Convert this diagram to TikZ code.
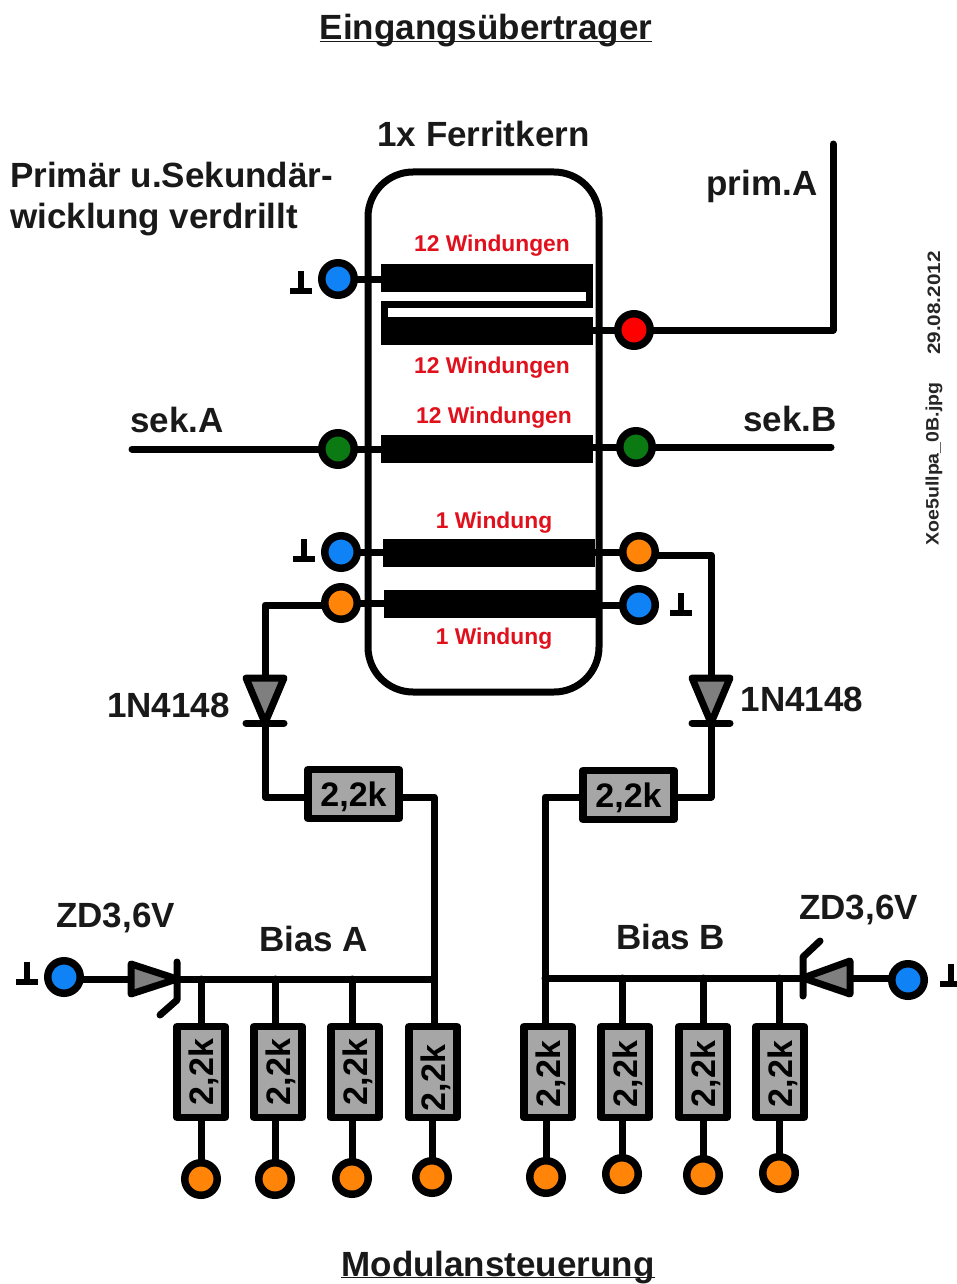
\documentclass[tikz,border=0pt]{standalone}
\usepackage{fontspec}
\usepackage{graphicx}
\setmainfont{Liberation Sans}[BoldFont={Liberation Sans Bold}]
\newcommand{\fsz}[1]{\fontsize{#1}{#1}\selectfont\bfseries}
\newcommand{\ul}[1]{\underline{\smash{\hbox{#1}}}}
\definecolor{tblue}{HTML}{0F82F5}
\definecolor{tred}{HTML}{FF0000}
\definecolor{tgreen}{HTML}{0B7A12}
\definecolor{torange}{HTML}{FF8408}
\definecolor{rgrey}{HTML}{A6A6A6}
\definecolor{dgrey}{HTML}{7F7F7F}
\definecolor{wred}{HTML}{E0101C}
\tikzset{
  wire/.style={draw=black,line width=7pt,line join=round,line cap=round},
  stub/.style={draw=black,line width=7pt},
  term/.style={circle,draw=black,line width=7.5pt,minimum size=32.5pt,inner sep=0pt,outer sep=0pt,fill=#1},
  winding/.style={rectangle,fill=black,minimum width=212pt,minimum height=28pt,inner sep=0pt,outer sep=0pt},
  rhoriz/.style={rectangle,draw=black,line width=7.5pt,fill=rgrey,line join=round,minimum width=91pt,minimum height=49pt,inner sep=0pt,outer sep=0pt,text height=24pt,text depth=0pt,font=\fsz{34}},
  rvert/.style={rectangle,draw=black,line width=7.5pt,fill=rgrey,line join=round,rotate=90,minimum width=91pt,minimum height=48pt,inner sep=0pt,outer sep=0pt,text height=24pt,text depth=0pt,font=\fsz{34}},
  lbl/.style={anchor=base,inner sep=0pt,font=\fsz{35},text=black!90},
  lbll/.style={anchor=base west,inner sep=0pt,font=\fsz{35},text=black!90},
  wlbl/.style={anchor=base,inner sep=0pt,font=\fsz{22.8},text=wred},
  side/.style={inner sep=0pt,rotate=90,font=\fsz{18},text=black!85},
  dbody/.style={draw=black,line width=7pt,line join=round,fill=dgrey},
  dbar/.style={draw=black,line width=7pt,line cap=round,line join=round},
  gndline/.style={draw=black,line width=6pt},
  gndsym/.pic={\draw[gndline] (0,-11) -- (0,9); \draw[gndline] (-11,9) -- (11,9);},
}
\begin{document}
\begin{tikzpicture}[x=1pt,y=-1pt]
\useasboundingbox (0,0) rectangle (956,1284);
% core
\node[rectangle,draw=black,line width=7pt,rounded corners=45pt,minimum width=231pt,minimum height=520pt,inner sep=0pt,outer sep=0pt] (core) at (483.5,432) {};
% windings
\node[winding] (w1) at (487,277.5) {};
\node[winding] (w2) at (487,330.5) {};
\node[winding] (w3) at (487,449) {};
\node[winding] (w4) at (489,552.5) {};
\node[winding,minimum width=213pt] (w5) at (490.5,603.5) {};
% terminals
\node[term=tblue] (t1) at (338,279) {};
\node[term=tred] (t2) at (634,330) {};
\node[term=tgreen] (t3) at (338,449) {};
\node[term=tgreen] (t4) at (636,447) {};
\node[term=tblue] (t5) at (341,552) {};
\node[term=torange] (t6) at (639,552) {};
\node[term=torange] (t7) at (341,603) {};
\node[term=tblue] (t8) at (639,605) {};
\node[term=tblue] (t9) at (64,977) {};
\node[term=tblue] (t10) at (908,980) {};
\node[term=torange] (o1) at (201,1179) {};
\node[term=torange] (o2) at (275,1179) {};
\node[term=torange] (o3) at (352,1178) {};
\node[term=torange] (o4) at (432,1177) {};
\node[term=torange] (o5) at (546,1177) {};
\node[term=torange] (o6) at (622,1174) {};
\node[term=torange] (o7) at (703,1175) {};
\node[term=torange] (o8) at (779,1173) {};
% resistors
\node[rhoriz] (rh1) at (353.5,794) {2,2k};
\node[rhoriz] (rh2) at (628.5,795) {2,2k};
\node[rvert] (r1) at (201,1072) {2,2k};
\node[rvert] (r2) at (278,1072) {2,2k};
\node[rvert] (r3) at (355,1072) {2,2k};
\node[rvert] (r4) at (433,1072) {2,2k\kern12pt};
\node[rvert] (r5) at (548,1072) {2,2k\kern4pt};
\node[rvert] (r6) at (625,1072) {2,2k\kern4pt};
\node[rvert] (r7) at (703,1072) {2,2k\kern4pt};
\node[rvert] (r8) at (780,1072) {2,2k\kern4pt};
% fixed points
\coordinate (primA) at (833,144);
\coordinate (sekA) at (132,449);
\coordinate (sekB) at (831,447);
\coordinate (d1t) at (265,678);
\coordinate (d1b) at (265,723);
\coordinate (d2t) at (711,678);
\coordinate (d2b) at (711,723);
\coordinate (z1a) at (131,979);
\coordinate (z1k) at (177,979);
\coordinate (z2a) at (851,978);
\coordinate (z2k) at (803,978);
\coordinate (busA) at (434,979);
\coordinate (busB) at (545,978);
% connectors
\draw[stub] (t1) -- (t1 -| w1.west);
\draw[stub] (t2) -- (t2 -| w2.east);
\draw[stub] (t3) -- (t3 -| w3.west);
\draw[stub] (t4) -- (t4 -| w3.east);
\draw[stub] (t5) -- (t5 -| w4.west);
\draw[stub] (t6) -- (t6 -| w4.east);
\draw[stub] (t7) -- (t7 -| w5.west);
\draw[stub] (t8) -- (t8 -| w5.east);
\draw[wire,line cap=butt,line join=miter] ([xshift=-3.5pt]w1.south east) -- ++(0,12.5) -| ([xshift=3.5pt,yshift=-3pt]w2.north west);
\draw[wire] (t2) -| (primA);
\draw[wire] (t3) -- (sekA);
\draw[wire] (t4) -- (sekB);
\draw[wire] ([yshift=-2pt]t7.west) -| (d1t);
\draw[wire] ([yshift=-3pt]t6.east) -| (d2t);
\draw[wire] (d1b) |- ([yshift=-3pt]rh1.west);
\draw[wire] (d2b) |- ([yshift=-2pt]rh2.east);
\draw[wire] ([yshift=-3pt]rh1.east) -| (busA);
\draw[wire] (busA) -- (busA |- r4.east);
\draw[wire] ([yshift=-2pt]rh2.west) -| (busB);
\draw[wire] (busB) -- (busB |- r5.east);
\draw[wire] ([yshift=-2pt]t9.east) -- (z1a);
\draw[wire] ([yshift=2pt]t10.west) -- (z2a);
\draw[wire] (z1k) -- (busA);
\draw[wire] (z2k) -- (busB);
\draw[wire] (o1 |- busA) -- (o1 |- r1.east);
\draw[wire] (o2 |- busA) -- (o2 |- r2.east);
\draw[wire] (o3 |- busA) -- (o3 |- r3.east);
\draw[wire] (o6 |- busB) -- (o6 |- r6.east);
\draw[wire] (o7 |- busB) -- (o7 |- r7.east);
\draw[wire] (o8 |- busB) -- (o8 |- r8.east);
\foreach \r/\o in {r1/o1,r2/o2,r3/o3,r4/o4,r5/o5,r6/o6,r7/o7,r8/o8}
  \draw[stub] (\o) -- (\o |- \r.west);
% diodes
\draw[dbody] (246,678) -- (284,678) -- (d1b) -- cycle;
\draw[dbar] (246,723) -- (284,723);
\draw[dbody] (692,678) -- (730,678) -- (d2b) -- cycle;
\draw[dbar] (692,723) -- (730,723);
% zener diodes
\draw[dbody] (131,964) -- (z1k) -- (131,994) -- cycle;
\draw[dbar] (177,962) -- (177,1000) -- (160,1015);
\draw[dbody] (850,961) -- (803,978) -- (850,994) -- cycle;
\draw[dbar] (803,996) -- (803,957) -- (820,941);
% ground symbols
\pic at (301,282) {gndsym};
\pic at (304,550) {gndsym};
\pic at (681,604) {gndsym};
\pic at (27,973) {gndsym};
\pic at (951,975) {gndsym};
% texts
\node[lbl] (title) at (486,40) {\ul{Eingangsübertrager}};
\node[lbl] (ferrit) at (483.5,147) {1x Ferritkern};
\node[lbll] (tw1) at (10,188) {Primär u.Sekundär-};
\node[lbll] (tw2) at (10,228) {wicklung verdrillt};
\node[lbl] (lprim) at (762,196) {prim.A};
\node[lbl] (lseka) at (177,432) {sek.A};
\node[lbl] (lsekb) at (790,431) {sek.B};
\node[wlbl] (wl1) at (492,251) {12 Windungen};
\node[wlbl] (wl2) at (492,373) {12 Windungen};
\node[wlbl] (wl3) at (494,423) {12 Windungen};
\node[wlbl] (wl4) at (494,528) {1 Windung};
\node[wlbl] (wl5) at (494,644) {1 Windung};
\node[lbl] (ld1) at (168.5,717) {1N4148};
\node[lbl] (ld2) at (802,711) {1N4148};
\node[lbl] (lz1) at (115.5,927) {ZD3,6V};
\node[lbl] (lz2) at (858.5,919) {ZD3,6V};
\node[lbl] (lba) at (313.5,951) {Bias A};
\node[lbl] (lbb) at (670.5,949) {Bias B};
\node[lbl] (footer) at (498,1276) {\ul{Modulansteuerung}};
\node[side] (date) at (934,303) {\scalebox{1.15}[1]{29.08.2012}};
\node[side] (file) at (934,464) {\scalebox{1.085}[1]{Xoe5ullpa\_0B.jpg}};
\end{tikzpicture}
\end{document}
